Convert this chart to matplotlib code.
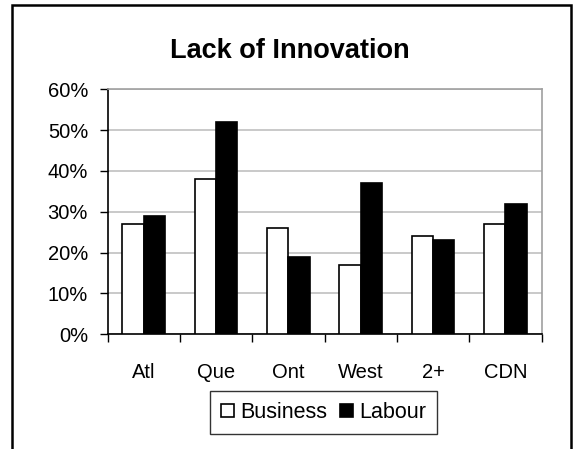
import numpy as np
import matplotlib
matplotlib.use('Agg')
import matplotlib.pyplot as plt
from matplotlib.patches import Rectangle
from matplotlib.ticker import PercentFormatter

# Datos
categorias = ['Atl', 'Que', 'Ont', 'West', '2+', 'CDN']
business = [27, 38, 26, 17, 24, 27]
labour = [29, 52, 19, 37, 23, 32]

plt.rcParams['font.family'] = ['Liberation Sans', 'DejaVu Sans']

fig = plt.figure(figsize=(5.74, 4.49), dpi=100)
ax = fig.add_axes([0.1873, 0.2555, 0.7561, 0.5456])

x = np.arange(len(categorias))
w = 0.295
ax.bar(x - w / 2, business, w, color='white', edgecolor='black', linewidth=1.2, label='Business', zorder=3)
ax.bar(x + w / 2, labour, w, color='black', edgecolor='black', linewidth=1.2, label='Labour', zorder=3)

ax.set_xlim(-0.5, len(categorias) - 0.5)
ax.set_ylim(0, 60)
ax.set_yticks(range(0, 61, 10))
ax.yaxis.set_major_formatter(PercentFormatter(decimals=0))
ax.yaxis.grid(True, color='#c0c0c0', linewidth=1.2, zorder=0)

ax.set_xticks(x)
ax.set_xticklabels(categorias)
ax.set_xticks(np.arange(-0.5, len(categorias), 1), minor=True)
ax.tick_params(axis='x', which='major', length=0, pad=21, labelsize=14.5)
ax.tick_params(axis='x', which='minor', length=6, width=1, direction='out')
ax.tick_params(axis='y', length=6, width=1, direction='out', pad=8, labelsize=14.5)

ax.spines['left'].set_color('black')
ax.spines['bottom'].set_color('black')
ax.spines['top'].set_color('#a0a0a0')
ax.spines['right'].set_color('#a0a0a0')
for s in ax.spines.values():
    s.set_linewidth(1.2)

fig.text(290 / 574, 1 - 51 / 449, 'Lack of Innovation', ha='center', va='center',
         fontsize=19.5, fontweight='bold')

leg = fig.legend(loc='center', bbox_to_anchor=(323.6 / 574, 1 - 412.5 / 449), ncol=2,
                 fontsize=15.5, frameon=True, fancybox=False, edgecolor='black',
                 handlelength=0.6, handleheight=0.6, handletextpad=0.3,
                 columnspacing=0.6, borderpad=0.5)
leg.get_frame().set_linewidth(1.0)

# borde exterior del grafico
fig.patches.append(Rectangle((12 / 574, -0.1), (571 - 12) / 574, 1.1 - 5 / 449,
                             transform=fig.transFigure, fill=False,
                             edgecolor='black', linewidth=1.8))

fig.savefig('out.png', dpi=100)
